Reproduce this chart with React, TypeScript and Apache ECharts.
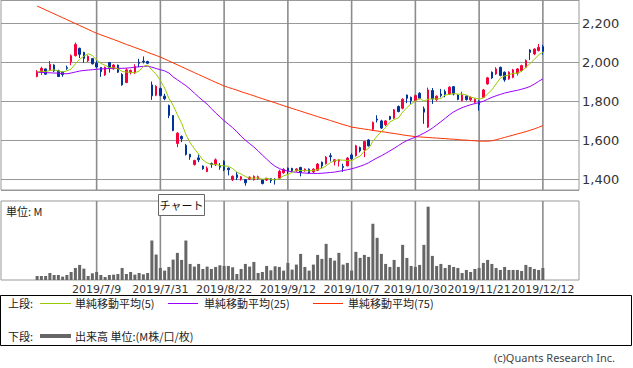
import React, { useEffect, useRef } from 'react';
import * as echarts from 'echarts';

const dates = [
  '2019/6/19','2019/6/20','2019/6/21','2019/6/24','2019/6/25','2019/6/26','2019/6/27','2019/6/28',
  '2019/7/1','2019/7/2','2019/7/3','2019/7/4','2019/7/5','2019/7/8','2019/7/9','2019/7/10','2019/7/11','2019/7/12','2019/7/16','2019/7/17','2019/7/18','2019/7/19','2019/7/22','2019/7/23','2019/7/24','2019/7/25','2019/7/26','2019/7/29','2019/7/30','2019/7/31',
  '2019/8/1','2019/8/2','2019/8/5','2019/8/6','2019/8/7','2019/8/8','2019/8/9','2019/8/13','2019/8/14','2019/8/15','2019/8/16','2019/8/19','2019/8/20','2019/8/21','2019/8/22','2019/8/23','2019/8/26','2019/8/27','2019/8/28','2019/8/29','2019/8/30',
  '2019/9/2','2019/9/3','2019/9/4','2019/9/5','2019/9/6','2019/9/9','2019/9/10','2019/9/11','2019/9/12','2019/9/13','2019/9/17','2019/9/18','2019/9/19','2019/9/20','2019/9/24','2019/9/25','2019/9/26','2019/9/27','2019/9/30',
  '2019/10/1','2019/10/2','2019/10/3','2019/10/4','2019/10/7','2019/10/8','2019/10/9','2019/10/10','2019/10/11','2019/10/15','2019/10/16','2019/10/17','2019/10/18','2019/10/21','2019/10/23','2019/10/24','2019/10/25','2019/10/28','2019/10/29','2019/10/30','2019/10/31',
  '2019/11/1','2019/11/5','2019/11/6','2019/11/7','2019/11/8','2019/11/11','2019/11/12','2019/11/13','2019/11/14','2019/11/15','2019/11/18','2019/11/19','2019/11/20','2019/11/21','2019/11/22','2019/11/25','2019/11/26','2019/11/27','2019/11/28','2019/11/29',
  '2019/12/2','2019/12/3','2019/12/4','2019/12/5','2019/12/6','2019/12/9','2019/12/10','2019/12/11','2019/12/12',
];

const opens = [
  1927,1952,1966,1961,1986,1956,1950,1973,2003,2034,
  2072,2051,2008,2019,1995,1973,1935,1999,1966,1986,
  1938,1896,1950,1945,2000,2006,2004,1884,1831,1866,
  1826,1778,1727,1583,1619,1573,1527,1475,1509,1467,
  1439,1480,1473,1470,1492,1456,1397,1422,1400,1397,
  1400,1397,1402,1397,1395,1402,1400,1405,1432,1456,
  1455,1443,1460,1443,1451,1437,1445,1487,1479,1520,
  1490,1492,1465,1468,1524,1520,1562,1550,1601,1656,
  1708,1699,1679,1721,1713,1773,1764,1832,1820,1803,
  1841,1761,1667,1855,1809,1837,1850,1837,1875,1832,
  1803,1826,1807,1795,1800,1820,1889,1949,1940,1974,
  1949,1915,1923,1944,1957,1974,2063,2043,2060,2080,
];
const closes = [
  1952,1969,1939,1990,1956,1927,1937,1969,2034,2092,
  2041,2020,2031,1992,1976,1952,1974,1972,1986,1949,
  1884,1961,1958,1978,1995,2002,1995,1828,1877,1829,
  1813,1727,1650,1636,1607,1527,1513,1496,1499,1453,
  1456,1475,1499,1461,1448,1448,1414,1408,1412,1381,
  1410,1414,1412,1377,1404,1392,1397,1440,1450,1443,
  1443,1452,1434,1451,1431,1451,1477,1468,1513,1515,
  1499,1499,1460,1508,1504,1571,1545,1593,1571,1691,
  1703,1662,1699,1708,1756,1747,1810,1815,1803,1829,
  1815,1744,1858,1812,1826,1829,1834,1872,1837,1809,
  1832,1809,1820,1810,1783,1858,1920,1920,1966,1932,
  1910,1949,1961,1966,1983,2009,2051,2068,2077,2056,
];
const highs = [
  1960,1977,1968,2007,1990,1962,1952,1983,2041,2101,
  2075,2054,2036,2022,2008,1976,1978,1999,1990,1988,
  1944,1970,1963,1990,2018,2030,2008,1901,1882,1870,
  1838,1783,1727,1641,1624,1581,1530,1499,1526,1470,
  1465,1485,1506,1482,1496,1460,1419,1436,1416,1400,
  1414,1419,1418,1400,1407,1406,1404,1448,1456,1460,
  1458,1456,1463,1455,1455,1456,1482,1490,1518,1533,
  1503,1503,1479,1513,1533,1576,1567,1596,1605,1696,
  1728,1705,1703,1725,1760,1778,1815,1834,1824,1834,
  1846,1773,1870,1868,1830,1863,1860,1877,1878,1836,
  1849,1830,1824,1815,1805,1863,1925,1953,1975,1978,
  1953,1954,1966,1970,1988,2015,2067,2072,2094,2090,
];
const lows = [
  1923,1935,1936,1956,1950,1924,1926,1961,1985,2030,
  2022,1998,2001,1989,1969,1925,1930,1947,1962,1945,
  1880,1893,1938,1940,1975,1994,1992,1807,1826,1825,
  1805,1713,1646,1564,1590,1521,1499,1470,1487,1448,
  1436,1458,1468,1448,1441,1419,1390,1395,1392,1366,
  1395,1392,1397,1373,1390,1380,1372,1400,1427,1424,
  1436,1438,1414,1438,1427,1431,1441,1456,1475,1491,
  1470,1465,1437,1465,1499,1516,1537,1513,1567,1649,
  1691,1658,1672,1703,1708,1743,1759,1790,1786,1800,
  1810,1684,1663,1786,1800,1820,1820,1832,1830,1805,
  1800,1803,1800,1790,1752,1817,1885,1915,1935,1928,
  1900,1910,1918,1932,1952,1970,2012,2037,2056,2039,
];

const ma5 = [
  1950,1955,1952,1958,1961,1956,1950,1956,1965,1992,
  2015,2031,2044,2035,2012,1994,1985,1973,1972,1967,
  1953,1950,1948,1946,1955,1979,1986,1960,1939,1906,
  1868,1815,1779,1731,1687,1629,1587,1556,1528,1498,
  1483,1476,1476,1469,1468,1466,1454,1436,1426,1413,
  1405,1405,1406,1399,1403,1400,1396,1402,1417,1424,
  1435,1446,1444,1445,1442,1444,1449,1456,1468,1485,
  1494,1499,1497,1496,1494,1508,1518,1544,1557,1594,
  1621,1644,1665,1693,1706,1714,1744,1767,1786,1801,
  1814,1801,1810,1812,1811,1814,1832,1835,1840,1836,
  1837,1832,1821,1816,1811,1816,1838,1858,1889,1919,
  1930,1935,1944,1944,1954,1974,1994,2015,2038,2052,
];
const ma25 = [
  1949,1948,1947,1946,1945,1944,1942,1941,1945,1950,
  1955,1958,1960,1962,1964,1966,1967,1968,1969,1969,
  1969,1970,1972,1975,1977,1979,1980,1975,1968,1962,
  1956,1945,1925,1910,1895,1880,1862,1842,1822,1803,
  1785,1762,1740,1720,1700,1682,1664,1643,1620,1600,
  1582,1565,1545,1523,1503,1482,1466,1454,1446,1441,
  1438,1435,1433,1431,1430,1429,1429,1430,1432,1434,
  1436,1440,1444,1448,1453,1459,1466,1474,1484,1497,
  1509,1520,1532,1545,1558,1572,1586,1598,1607,1615,
  1625,1636,1648,1662,1678,1695,1712,1730,1745,1757,
  1767,1775,1782,1788,1793,1800,1810,1820,1828,1835,
  1842,1847,1852,1856,1862,1868,1876,1888,1902,1915,
];
const ma75 = [
  2289,2279,2269,2259,2249,2239,2229,2219,2209,2199,
  2189,2179,2169,2159,2149,2141,2133,2125,2117,2109,
  2100,2092,2084,2076,2068,2060,2051,2043,2035,2027,
  2017,2007,1997,1987,1977,1967,1957,1947,1937,1927,
  1917,1907,1897,1888,1878,1871,1864,1857,1849,1842,
  1835,1828,1820,1813,1806,1799,1792,1784,1777,1770,
  1763,1756,1749,1742,1735,1728,1721,1714,1708,1701,
  1694,1687,1680,1674,1667,1664,1660,1657,1654,1650,
  1647,1644,1641,1637,1634,1631,1627,1624,1621,1618,
  1617,1615,1614,1612,1611,1609,1608,1606,1605,1603,
  1601,1600,1598,1597,1595,1595,1595,1597,1602,1608,
  1614,1620,1626,1632,1638,1644,1651,1658,1666,1675,
];

const volumes = [
  0.12,0.12,0.12,0.21,0.15,0.15,0.10,0.15,0.24,0.36,
  0.45,0.34,0.12,0.20,0.24,0.15,0.09,0.15,0.16,0.18,
  0.36,0.18,0.24,0.16,0.21,0.17,0.21,1.18,0.76,0.36,
  0.28,0.39,0.61,0.81,0.60,1.18,0.48,0.40,0.48,0.33,
  0.40,0.33,0.39,0.44,0.42,0.42,0.38,0.18,0.33,0.48,
  0.40,0.54,0.21,0.24,0.42,0.29,0.41,0.39,0.28,0.51,
  0.31,0.46,0.78,0.39,0.28,0.46,0.75,0.63,1.08,0.66,
  0.58,0.81,0.46,0.51,0.28,0.84,0.66,0.75,0.69,1.68,
  1.26,0.78,0.48,0.39,0.60,0.39,1.05,0.66,0.42,0.39,
  0.45,1.05,2.19,0.72,0.42,0.48,0.36,0.45,0.39,0.36,
  0.21,0.30,0.24,0.33,0.36,0.51,0.60,0.48,0.36,0.30,
  0.39,0.30,0.30,0.30,0.27,0.45,0.39,0.33,0.30,0.36,
];

const tickLabels = ['2019/7/9','2019/7/31','2019/8/22','2019/9/12','2019/10/7','2019/10/30','2019/11/21','2019/12/12'];

const PRICE_MIN = 1344;
const PRICE_MAX = 2320;
const VOL_MAX = 2.36;
const PAD = 8;
const JP = '"Noto Sans CJK JP", "Noto Sans", sans-serif';

export default function App() {
  const ref = useRef<HTMLDivElement>(null);
  useEffect(() => {
    if (!ref.current) return;
    const chart = echarts.init(ref.current, null, { renderer: 'svg' });
    const leftPad = Array.from({ length: PAD }, (_, k) => `L${k}`);
    const rightPad = Array.from({ length: PAD }, (_, k) => `R${k}`);
    const cats = [...leftPad, ...dates, ...rightPad];
    const blank = (): any[] => Array.from({ length: PAD }, () => '-');
    const pad = (arr: any[]) => [...blank(), ...arr, ...blank()];
    const ohlc = dates.map((_, i) => [opens[i], closes[i], lows[i], highs[i]]);

    const hiddenCatAxis = (gridIndex: number) => ({
      type: 'category', gridIndex, data: cats, boundaryGap: true, show: false,
      axisLine: { show: false }, axisTick: { show: false }, axisLabel: { show: false }, splitLine: { show: false },
    });
    // vertical grid lines at the labelled dates: narrow bars on a twin category axis
    const vGrid = (xAxisIndex: number, yAxisIndex: number, lo: number, hi: number) => ({
      type: 'bar',
      xAxisIndex,
      yAxisIndex,
      silent: true,
      z: 0,
      barWidth: 1.6,
      itemStyle: { color: '#8c8c8c' },
      data: cats.map((c) => (tickLabels.includes(c) ? [c, hi, lo] : [c, '-', '-'])),
      encode: { x: 0, y: 1 },
      stack: undefined,
    });

    const lineSeries = (name: string, data: number[], color: string, z: number) => ({
      name,
      type: 'line',
      xAxisIndex: 0,
      yAxisIndex: 0,
      data: pad(data),
      showSymbol: false,
      symbol: 'none',
      silent: true,
      z,
      lineStyle: { color, width: 1 },
    });

    const legendY1 = 303;
    const legendY2 = 336;
    const txt = (text: string, x: number, y: number, size = 11, align = 'left', fill = '#222', family = JP) => ({
      type: 'text',
      x,
      y,
      z: 100,
      style: {
        text,
        fill,
        font: `${size}px ${family}`,
        textAlign: align,
        textVerticalAlign: 'middle',
        align,
        verticalAlign: 'middle',
      },
    });
    const seg = (x1: number, x2: number, y: number, color: string, w = 1) => ({
      type: 'line',
      z: 100,
      shape: { x1, y1: y, x2, y2: y },
      style: { stroke: color, lineWidth: w },
    });

    chart.setOption({
      animation: false,
      backgroundColor: '#fff',
      grid: [
        { left: 1, top: 0, width: 578, height: 190, show: true, borderColor: '#999', borderWidth: 1, backgroundColor: 'transparent' },
        { left: 1, top: 201, width: 578, height: 79, show: true, borderColor: '#999', borderWidth: 1, backgroundColor: 'transparent' },
      ],
      xAxis: [
        {
          type: 'category', gridIndex: 0, data: cats, boundaryGap: true,
          axisLine: { show: false }, axisTick: { show: false }, axisLabel: { show: false }, splitLine: { show: false },
        },
        {
          type: 'category', gridIndex: 1, data: cats, boundaryGap: true,
          axisLine: { show: false }, axisTick: { show: false }, splitLine: { show: false },
          axisLabel: {
            interval: (_idx: number, val: string) => tickLabels.includes(val),
            color: '#333', fontSize: 11, fontFamily: 'DejaVu Sans', margin: 4, hideOverlap: false,
          },
        },
        hiddenCatAxis(0),
        hiddenCatAxis(1),
      ],
      yAxis: [
        {
          type: 'value', gridIndex: 0, position: 'right', min: PRICE_MIN, max: PRICE_MAX, splitNumber: 5,
          axisLine: { show: false }, axisTick: { show: false },
          splitLine: { show: true, lineStyle: { color: '#999', width: 1 } },
          axisLabel: {
            showMinLabel: false, showMaxLabel: false, color: '#333', fontSize: 13, fontFamily: 'DejaVu Sans', margin: 3,
            formatter: (v: number) => v.toLocaleString('en-US'),
          },
        },
        {
          type: 'value', gridIndex: 1, min: 0, max: VOL_MAX,
          axisLine: { show: false }, axisTick: { show: false }, axisLabel: { show: false }, splitLine: { show: false },
        },
      ],
      series: [
        {
          ...vGrid(2, 0, PRICE_MIN, PRICE_MAX),
          data: cats.map((c) => (tickLabels.includes(c) ? PRICE_MAX : '-')),
          encode: undefined,
          clip: true,
        },
        {
          ...vGrid(3, 1, 0, VOL_MAX),
          data: cats.map((c) => (tickLabels.includes(c) ? VOL_MAX : '-')),
          encode: undefined,
          clip: true,
        },
        lineSeries('単純移動平均(75)', ma75, '#ff3300', 1),
        {
          name: 'price',
          type: 'candlestick',
          xAxisIndex: 0,
          yAxisIndex: 0,
          z: 2,
          silent: true,
          barWidth: 2,
          data: pad(ohlc).map((d) => (d === '-' ? ['-', '-', '-', '-'] : d)),
          itemStyle: {
            color: '#f5003d', color0: '#003399', borderColor: '#f5003d', borderColor0: '#003399', borderWidth: 1,
          },
        },
        lineSeries('単純移動平均(25)', ma25, '#9900ff', 3),
        lineSeries('単純移動平均(5)', ma5, '#99cc00', 3),
        {
          name: 'volume',
          type: 'bar',
          xAxisIndex: 1,
          yAxisIndex: 1,
          silent: true,
          barWidth: 3,
          z: 2,
          data: pad(volumes),
          itemStyle: { color: '#666' },
        },
      ],
      graphic: [
        txt('単位: M', 6, 211, 11, 'left', '#222'),
        { type: 'rect', z: 100, shape: { x: 158.5, y: 194.5, width: 46, height: 21 }, style: { fill: '#fff', stroke: '#666', lineWidth: 1 } },
        txt('チャート', 181.5, 205, 11, 'center', '#111'),
        { type: 'rect', z: 100, shape: { x: 0.5, y: 295.5, width: 631, height: 50 }, style: { fill: 'none', stroke: '#000', lineWidth: 1 } },
        txt('上段:', 8, legendY1),
        seg(40, 71, legendY1 + 0.5, '#99cc00'),
        txt('単純移動平均(5)', 75, legendY1),
        seg(168, 198, legendY1 + 0.5, '#9900ff'),
        txt('単純移動平均(25)', 204, legendY1),
        seg(313, 343, legendY1 + 0.5, '#ff3300'),
        txt('単純移動平均(75)', 348, legendY1),
        txt('下段:', 8, legendY2),
        seg(40, 71, legendY2, '#666', 4),
        txt('出来高 単位:(M株/口/枚)', 75, legendY2),
        txt('(c)Quants Research Inc.', 615, 357, 11, 'right', '#444', '"Noto Sans", sans-serif'),
      ],
    });
    return () => chart.dispose();
  }, []);
  return <div ref={ref} style={{ position: 'fixed', left: 0, top: 0, width: 633, height: 368 }} />;
}
